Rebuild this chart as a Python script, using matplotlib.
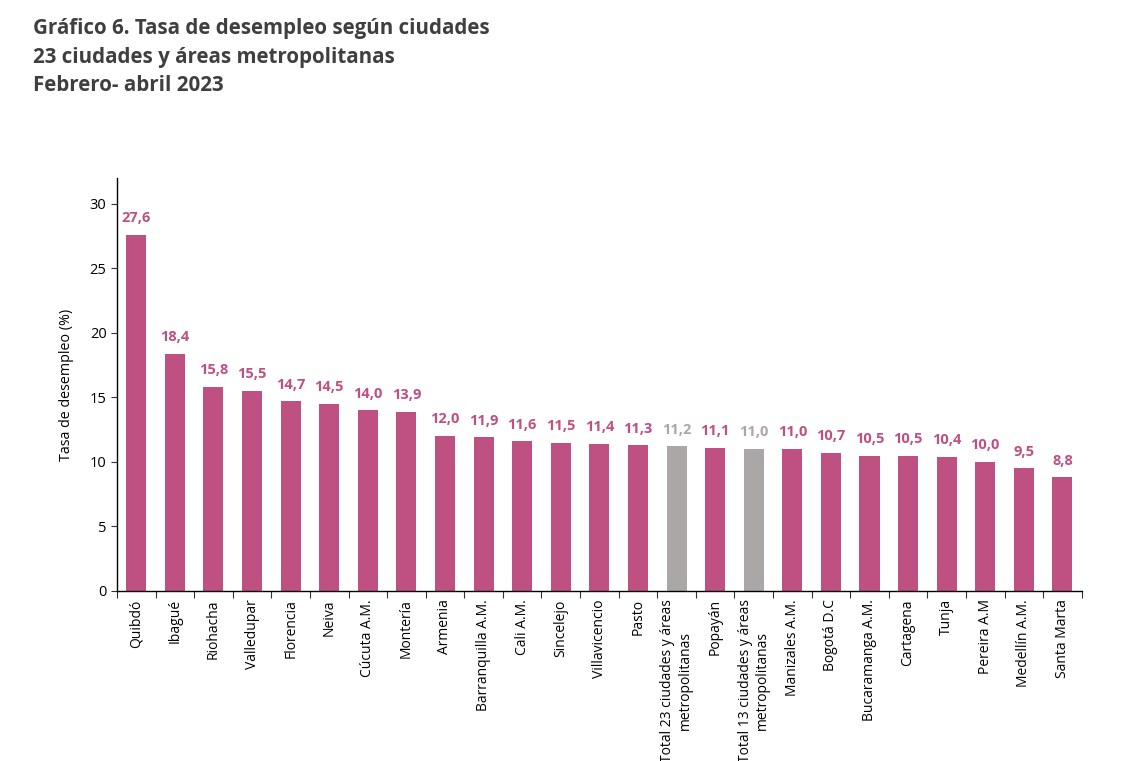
import numpy as np
import matplotlib.pyplot as plt
from matplotlib.ticker import FixedLocator, NullFormatter

plt.rcParams['font.family'] = ['Open Sans', 'DejaVu Sans']

# datos
ciudades = ['Quibdó', 'Ibagué', 'Riohacha', 'Valledupar', 'Florencia', 'Neiva',
            'Cúcuta A.M.', 'Montería', 'Armenia', 'Barranquilla A.M.', 'Cali A.M.',
            'Sincelejo', 'Villavicencio', 'Pasto',
            'Total 23 ciudades y áreas\nmetropolitanas', 'Popayán',
            'Total 13 ciudades y áreas\nmetropolitanas', 'Manizales A.M.',
            'Bogotá D.C', 'Bucaramanga A.M.', 'Cartagena', 'Tunja', 'Pereira A.M',
            'Medellín A.M.', 'Santa Marta']
tasa = [27.6, 18.4, 15.8, 15.5, 14.7, 14.5, 14.0, 13.9, 12.0, 11.9, 11.6,
        11.5, 11.4, 11.3, 11.2, 11.1, 11.0, 11.0, 10.7, 10.5, 10.5, 10.4,
        10.0, 9.5, 8.8]
es_total = [c.startswith('Total') for c in ciudades]

rosa = '#BE5082'
gris = '#ABA7A7'
colores = [gris if t else rosa for t in es_total]

fig = plt.figure(figsize=(11.28, 7.61), dpi=100)
ax = fig.add_axes([0.1037, 0.2234, 0.8553, 0.5426])

x = np.arange(len(ciudades))
barras = ax.bar(x, tasa, width=0.52, color=colores)

for xi, v, c in zip(x, tasa, colores):
    ax.text(xi, v + 0.75, f'{v:.1f}'.replace('.', ','), ha='center', va='bottom',
            fontsize=10.5, fontweight='bold', color=c)

ax.set_xlim(-0.5, len(ciudades) - 0.5)
ax.set_ylim(0, 32)
ax.set_yticks([0, 5, 10, 15, 20, 25, 30])
ax.tick_params(axis='y', labelsize=10.5, length=4, color='#333333')
ax.set_ylabel('Tasa de desempleo (%)', fontsize=10.3, labelpad=11)

# ticks en los bordes de categoria, etiquetas en el centro
ax.xaxis.set_major_locator(FixedLocator(np.arange(len(ciudades) + 1) - 0.5))
ax.xaxis.set_major_formatter(NullFormatter())
ax.xaxis.set_minor_locator(FixedLocator(x))
ax.set_xticklabels(ciudades, minor=True, rotation=90, fontsize=10,
                   ha='center', va='top', multialignment='center')
ax.tick_params(axis='x', which='major', length=5, color='#333333')
ax.tick_params(axis='x', which='minor', length=0, pad=6)

ax.spines['top'].set_visible(False)
ax.spines['right'].set_visible(False)
ax.spines['left'].set_linewidth(1.0)
ax.spines['bottom'].set_linewidth(1.0)

fig.text(0.029, 0.962, 'Gráfico 6. Tasa de desempleo según ciudades', fontsize=14.8,
         fontweight='bold', color='#3F3F3F', va='center')
fig.text(0.029, 0.925, '23 ciudades y áreas metropolitanas', fontsize=14.8,
         fontweight='bold', color='#3F3F3F', va='center')
fig.text(0.029, 0.887, 'Febrero- abril 2023', fontsize=14.8,
         fontweight='bold', color='#3F3F3F', va='center')

fig.savefig('out.png', dpi=100)
